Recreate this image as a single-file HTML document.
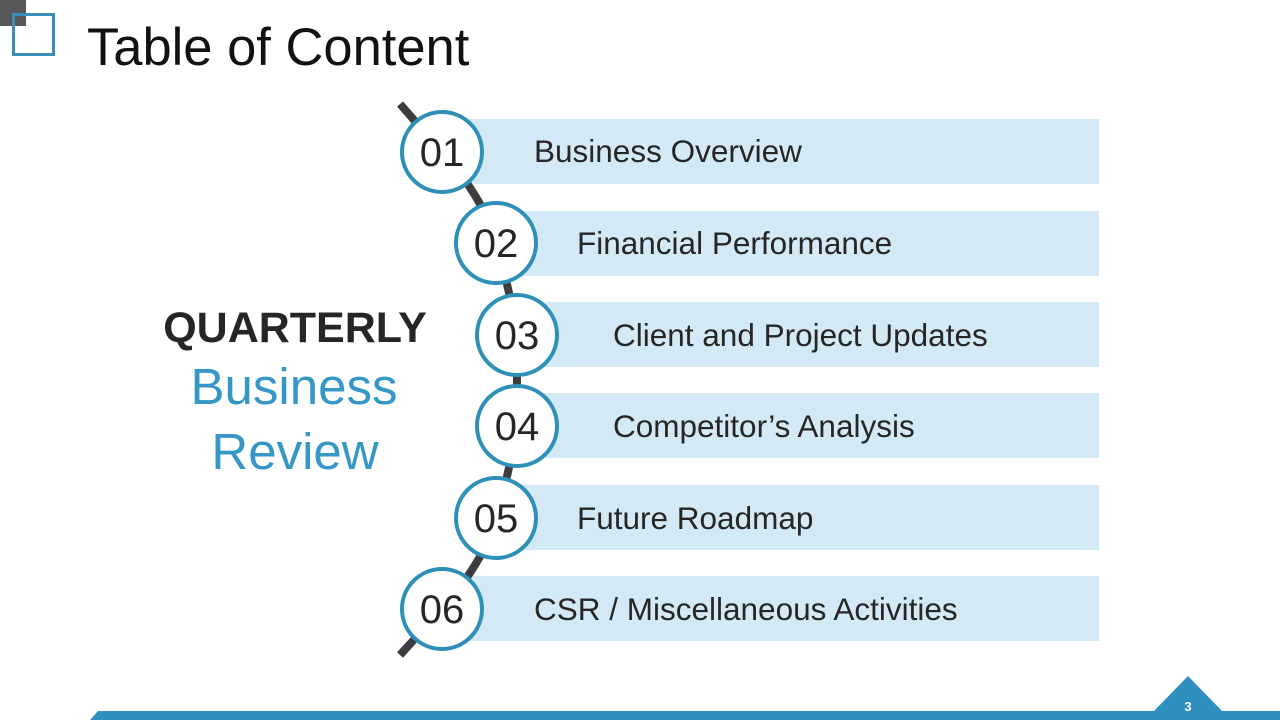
<!DOCTYPE html>
<html><head><meta charset="utf-8"><style>
html,body{margin:0;padding:0;background:#fff;}
svg{display:block;font-family:"Liberation Sans",Arial,sans-serif;}
</style></head><body>
<svg width="1280" height="720" viewBox="0 0 1280 720" xmlns="http://www.w3.org/2000/svg">
<rect x="0" y="0" width="26" height="26" fill="#58585a"/>
<rect x="13.5" y="14.5" width="40" height="40" fill="none" stroke="#3a8fb7" stroke-width="3"/>
<text x="87" y="65" font-size="52.5" fill="#111">Table of Content</text>

<g fill="#d3e9f5">
<rect x="465" y="119" width="634" height="65"/>
<rect x="515" y="211" width="584" height="65"/>
<rect x="535" y="302" width="564" height="65"/>
<rect x="535" y="393" width="564" height="65"/>
<rect x="515" y="485" width="584" height="65"/>
<rect x="465" y="576" width="634" height="65"/>
</g>
<path d="M400 104 L442 152 Q485 200 496 243 Q510 290 517 335 L517 426 Q510 470 496 518 Q485 560 442 609 L400 655" fill="none" stroke="#3d3d3f" stroke-width="8"/>
<g fill="#fff" stroke="#2e90b9" stroke-width="4">
<circle cx="442" cy="152" r="40"/>
<circle cx="496" cy="243" r="40"/>
<circle cx="517" cy="335" r="40"/>
<circle cx="517" cy="426" r="40"/>
<circle cx="496" cy="518" r="40"/>
<circle cx="442" cy="609" r="40"/>
</g>
<g font-size="40" fill="#262626" text-anchor="middle">
<text x="442" y="166">01</text>
<text x="496" y="257">02</text>
<text x="517" y="349">03</text>
<text x="517" y="440">04</text>
<text x="496" y="532">05</text>
<text x="442" y="623">06</text>
</g>
<g font-size="31.5" fill="#262626">
<text x="534" y="162">Business Overview</text>
<text x="577" y="254">Financial Performance</text>
<text x="613" y="346">Client and Project Updates</text>
<text x="613" y="437">Competitor’s Analysis</text>
<text x="577" y="529">Future Roadmap</text>
<text x="534" y="620">CSR / Miscellaneous Activities</text>
</g>
<text x="295" y="342" font-size="43" font-weight="bold" fill="#262626" text-anchor="middle">QUARTERLY</text>
<text x="294" y="404" font-size="51" fill="#3597c6" text-anchor="middle">Business</text>
<text x="295" y="469" font-size="51" fill="#3597c6" text-anchor="middle">Review</text>

<polygon points="98,711 1280,711 1280,720 90,720" fill="#2e8fc0"/>
<polygon points="1153,712 1188,676 1223,712" fill="#2e8fc0"/>
<text x="1188" y="711" font-size="13" font-weight="bold" fill="#fff" text-anchor="middle">3</text>
</svg>
</body></html>
